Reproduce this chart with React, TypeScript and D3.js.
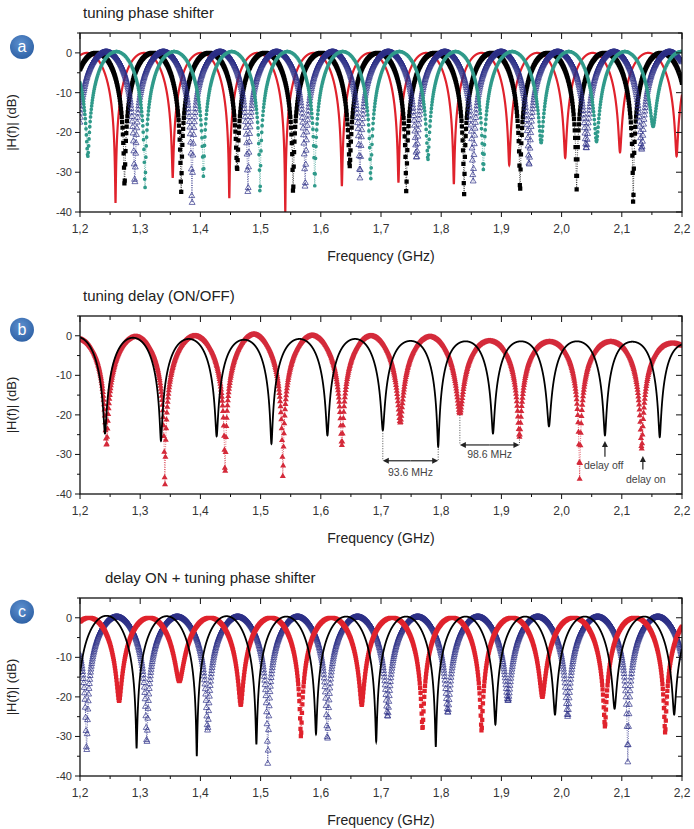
import React from 'react';
import * as d3 from 'd3';

// axes
const freqTicks = [1.2, 1.3, 1.4, 1.5, 1.6, 1.7, 1.8, 1.9, 2.0, 2.1, 2.2];
const dbTicks = [0, -10, -20, -30, -40];

// panel a: tuning phase shifter (notch centre GHz, notch depth dB, dome level dB)
const aRedNotches = [1.259, 1.354, 1.448, 1.541, 1.635, 1.729, 1.821, 1.913, 2.006, 2.097, 2.191];
const aRedDepths = [-37.7, -31.4, -36.5, -40, -33.5, -32.6, -33, -28.2, -26.4, -25, -26];
const aRedPeaks = [0, 0, 0, 0, 0, 0, 0, 0, 0, 0, 0, 0];
const aBlackNotches = [1.274, 1.368, 1.461, 1.554, 1.648, 1.742, 1.838, 1.931, 2.025, 2.119];
const aBlackDepths = [-33.4, -35.2, -29.4, -35.6, -28.5, -35, -35.8, -35, -34.3, -39.5];
const aBlackPeaks = [0, 0, 0, 0, 0, 0, 0, 0, 0, 0, 0];
const aNavyNotches = [1.291, 1.386, 1.479, 1.574, 1.665, 1.759, 1.853, 1.946, 2.041, 2.133];
const aNavyDepths = [-33, -40, -36, -34.3, -31.5, -26.4, -32.4, -28.2, -24, -24.3];
const aNavyPeaks = [0.2, 0.2, 0.2, 0.2, 0.2, 0.2, 0.2, 0.2, 0.2, 0.2, 0.2];
const aTealNotches = [1.213, 1.308, 1.405, 1.499, 1.59, 1.683, 1.778, 1.87, 1.966, 2.058, 2.152];
const aTealDepths = [-26, -34, -31, -35.6, -33.4, -31.7, -26.8, -29.3, -22.6, -22.3, -18.5];
const aTealPeaks = [0.3, 0.3, 0.3, 0.3, 0.3, 0.3, 0.3, 0.3, 0.3, 0.3, 0.3, 0.3];

// panel b: tuning delay ON/OFF
const bOffNotches = [1.2415, 1.3345, 1.427, 1.518, 1.611, 1.703, 1.795, 1.886, 1.979, 2.072, 2.163];
const bOffDepths = [-24.7, -26.6, -25.4, -27.3, -25.2, -23.9, -28, -24.7, -22.9, -25.2, -25.6];
const bOffPeaks = [-0.3, -0.5, -0.8, -1, -0.8, -0.8, -1.3, -1.4, -1.4, -1.4, -1.5, -2];
const bOnNotches = [1.244, 1.341, 1.441, 1.537, 1.635, 1.732, 1.831, 1.93, 2.03, 2.133];
const bOnDepths = [-27.7, -39.5, -35, -35.8, -27.7, -22, -19.7, -25.6, -36.2, -28.6];
const bOnPeaks = [-0.8, -0.3, -0.1, 0.3, 0, -0.1, -0.3, -1.4, -1.6, -1.6, -2];

// panel c: delay ON + tuning phase shifter
const cBlackNotches = [1.294, 1.394, 1.493, 1.592, 1.692, 1.791, 1.89, 1.989, 2.088, 2.187];
const cBlackDepths = [-33, -35, -32, -29.4, -31.3, -32.6, -27, -24.5, -23, -24.5];
const cBlackPeaks = [0.5, 0.4, 0.4, 0.3, 0.3, 0.3, 0.3, 0.3, 0.3, 0.3, 0.3];
const cRedNotches = [1.265, 1.365, 1.467, 1.567, 1.668, 1.769, 1.867, 1.968, 2.072, 2.172];
const cRedDepths = [-21, -16, -22, -30, -22, -28, -28.5, -20, -27.5, -29];
const cRedPeaks = [0, 0, 0, 0, 0, 0, 0, 0, 0, 0, 0];
const cNavyNotches = [1.211, 1.311, 1.412, 1.512, 1.611, 1.711, 1.811, 1.911, 2.01, 2.11];
const cNavyDepths = [-34, -31.7, -28.5, -37.2, -30.8, -25, -24, -21, -25, -36.5];
const cNavyPeaks = [0.2, 0.2, 0.2, 0.2, 0.2, 0.2, 0.2, 0.2, 0.2, 0.2, 0.2];

const RED = '#e0222c';
const NAVY = '#2c2f86';
const TEAL = '#2f9a8a';
const FONT = 'Liberation Sans, Arial, sans-serif';

const x = d3.scaleLinear().domain([1.2, 2.2]).range([80, 682]);
const fmtFreq = d3.formatLocale({ decimal: ',', thousands: '.', grouping: [3], currency: ['', ''] }).format('.1f');

// notch-filter response through the measured notch centres / depths
function response(f: number, notches: number[], depths: number[], peaks: number[]) {
  const k = d3.bisectRight(notches, f);
  const lo = Math.max(0, Math.min(notches.length - 2, k - 1));
  const gap = notches[lo + 1] - notches[lo];
  const i = d3.leastIndex(notches, (n) => Math.abs(n - f)) as number;
  const eps = Math.pow(10, depths[i] / 20);
  const s = Math.sin((Math.PI * (f - notches[i])) / gap);
  return 10 * Math.log10(s * s * (1 - eps * eps) + eps * eps) + peaks[k] * s * s;
}

const markerFreqs = d3.range(0, 1601).map((j) => 1.2 + j * 0.000625);
const lineFreqs = d3.range(0, 10001).map((j) => 1.2 + j * 0.0001);

function markerPath(pts: [number, number][], type: d3.SymbolType, size: number) {
  const p = d3.path();
  for (const [px, py] of pts) {
    const ctx: any = {
      moveTo: (a: number, b: number) => p.moveTo(a + px, b + py),
      lineTo: (a: number, b: number) => p.lineTo(a + px, b + py),
      closePath: () => p.closePath(),
      arc: (a: number, b: number, r: number, s0: number, s1: number, ccw?: boolean) => p.arc(a + px, b + py, r, s0, s1, ccw),
      rect: (a: number, b: number, w: number, h: number) => p.rect(a + px, b + py, w, h),
    };
    type.draw(ctx, size);
  }
  return p.toString();
}

type Series = {
  notches: number[];
  depths: number[];
  peaks: number[];
  color: string;
  kind: 'line' | 'square' | 'triangle' | 'opentriangle' | 'circle';
};

function SeriesMarks({ s, y, clip }: { s: Series; y: d3.ScaleLinear<number, number>; clip: string }) {
  if (s.kind === 'line') {
    const pts = lineFreqs.map((f) => [x(f), y(response(f, s.notches, s.depths, s.peaks))] as [number, number]);
    return <path d={d3.line()(pts) || ''} fill="none" stroke={s.color} strokeWidth={s.color === RED ? 2.2 : 1.8} clipPath={clip} />;
  }
  const pts = markerFreqs.map((f) => [x(f), y(response(f, s.notches, s.depths, s.peaks))] as [number, number]);
  const sym = s.kind === 'square' ? d3.symbolSquare : s.kind === 'circle' ? d3.symbolCircle : d3.symbolTriangle;
  const size = s.kind === 'square' ? 18 : s.kind === 'circle' ? 11 : s.kind === 'triangle' ? 16 : 15;
  const open = s.kind === 'opentriangle';
  return (
    <g clipPath={clip}>
      <path d={d3.line()(pts) || ''} fill="none" stroke={s.color} strokeWidth={0.7} strokeDasharray="1 1.3" />
      <path
        d={markerPath(pts, sym, size)}
        fill={open ? 'none' : s.color}
        stroke={open ? s.color : 'none'}
        strokeWidth={open ? 0.7 : 0}
      />
    </g>
  );
}

function Panel({ top, bottom, id, badge, title, titleX, series, children }: any) {
  const y = d3.scaleLinear().domain([-40, 5]).range([bottom, top]);
  const x0 = x.range()[0];
  const x1 = x.range()[1];
  const minorX = d3.range(0, 21).map((j) => 1.2 + j * 0.05);
  const minorY = d3.range(-40, 5.1, 5);
  return (
    <g fontFamily={FONT}>
      <defs>
        <clipPath id={`clip-${id}`}>
          <rect x={x0} y={top} width={x1 - x0} height={bottom - top} />
        </clipPath>
      </defs>
      <text x={titleX} y={top - 15} fontSize={15} fill="#222">{title}</text>
      <circle cx={22} cy={y(1.5)} r={12} fill="url(#badgeGrad)" />
      <text x={22} y={y(1.5) + 5.5} fontSize={16} fill="#fff" textAnchor="middle">{badge}</text>
      {series.map((s: Series, k: number) => (
        <SeriesMarks key={k} s={s} y={y} clip={`url(#clip-${id})`} />
      ))}
      {children && children(y)}
      <rect x={x0} y={top} width={x1 - x0} height={bottom - top} fill="none" stroke="#111" strokeWidth={1.3} />
      {minorX.map((f, j) => {
        const major = j % 2 === 0;
        return (
          <g key={`tx${j}`} stroke="#111" strokeWidth={1}>
            <line x1={x(f)} x2={x(f)} y1={top} y2={top + (major ? 6 : 4)} />
            <line x1={x(f)} x2={x(f)} y1={bottom} y2={bottom + (major ? 5 : 3)} />
          </g>
        );
      })}
      {minorY.map((v, j) => {
        const major = v % 10 === 0;
        return (
          <g key={`ty${j}`} stroke="#111" strokeWidth={1}>
            <line x1={x0} x2={x0 - (major ? 5 : 3)} y1={y(v)} y2={y(v)} />
            <line x1={x1} x2={x1 - (major ? 6 : 4)} y1={y(v)} y2={y(v)} />
          </g>
        );
      })}
      {dbTicks.map((v) => (
        <text key={`yl${v}`} x={x0 - 8} y={y(v) + 4} fontSize={11} fill="#333" textAnchor="end">{String(v)}</text>
      ))}
      {freqTicks.map((f) => (
        <text key={`xl${f}`} x={x(f)} y={bottom + 21} fontSize={12} fill="#333" textAnchor="middle">{fmtFreq(f)}</text>
      ))}
      <text x={(x0 + x1) / 2} y={bottom + 49} fontSize={14} fill="#222" textAnchor="middle">Frequency (GHz)</text>
      <text transform={`translate(16,${(top + bottom) / 2}) rotate(-90)`} fontSize={13} fill="#222" textAnchor="middle">|H(f)| (dB)</text>
    </g>
  );
}

function Arrow({ x1, y1, x2, y2 }: { x1: number; y1: number; x2: number; y2: number }) {
  const a = Math.atan2(y2 - y1, x2 - x1);
  const L = 6;
  const W = 3;
  const p = d3.path();
  p.moveTo(x2, y2);
  p.lineTo(x2 - L * Math.cos(a) + W * Math.sin(a), y2 - L * Math.sin(a) - W * Math.cos(a));
  p.lineTo(x2 - L * Math.cos(a) - W * Math.sin(a), y2 - L * Math.sin(a) + W * Math.cos(a));
  p.closePath();
  return (
    <g>
      <line x1={x1} y1={y1} x2={x2 - 4 * Math.cos(a)} y2={y2 - 4 * Math.sin(a)} stroke="#222" strokeWidth={1.2} />
      <path d={p.toString()} fill="#222" />
    </g>
  );
}

function annotationsB(y: d3.ScaleLinear<number, number>) {
  const dot = { stroke: '#222', strokeWidth: 0.8, strokeDasharray: '1 1.5' };
  const b1 = -31.6;
  const b2 = -27.6;
  return (
    <g fontFamily={FONT}>
      <line x1={x(1.703)} x2={x(1.703)} y1={y(-24)} y2={y(b1)} {...dot} />
      <line x1={x(1.795)} x2={x(1.795)} y1={y(-28)} y2={y(b1)} {...dot} />
      <Arrow x1={(x(1.703) + x(1.795)) / 2} y1={y(b1)} x2={x(1.703)} y2={y(b1)} />
      <Arrow x1={(x(1.703) + x(1.795)) / 2} y1={y(b1)} x2={x(1.795)} y2={y(b1)} />
      <text x={(x(1.703) + x(1.795)) / 2} y={y(-35.5)} fontSize={10.5} fill="#444" textAnchor="middle">93.6 MHz</text>
      <line x1={x(1.831)} x2={x(1.831)} y1={y(-20)} y2={y(b2)} {...dot} />
      <line x1={x(1.93)} x2={x(1.93)} y1={y(-25.6)} y2={y(b2)} {...dot} />
      <Arrow x1={(x(1.831) + x(1.93)) / 2} y1={y(b2)} x2={x(1.831)} y2={y(b2)} />
      <Arrow x1={(x(1.831) + x(1.93)) / 2} y1={y(b2)} x2={x(1.93)} y2={y(b2)} />
      <text x={(x(1.831) + x(1.93)) / 2} y={y(-31)} fontSize={10.5} fill="#444" textAnchor="middle">98.6 MHz</text>
      <Arrow x1={x(2.072)} y1={y(-30.6)} x2={x(2.072)} y2={y(-26.6)} />
      <text x={x(2.07)} y={y(-33.6)} fontSize={10.5} fill="#444" textAnchor="middle">delay off</text>
      <Arrow x1={x(2.135)} y1={y(-33.8)} x2={x(2.135)} y2={y(-30.4)} />
      <text x={x(2.14)} y={y(-37.3)} fontSize={10.5} fill="#444" textAnchor="middle">delay on</text>
    </g>
  );
}

export default function App() {
  const seriesA: Series[] = [
    { notches: aRedNotches, depths: aRedDepths, peaks: aRedPeaks, color: RED, kind: 'line' },
    { notches: aBlackNotches, depths: aBlackDepths, peaks: aBlackPeaks, color: '#000', kind: 'square' },
    { notches: aNavyNotches, depths: aNavyDepths, peaks: aNavyPeaks, color: NAVY, kind: 'opentriangle' },
    { notches: aTealNotches, depths: aTealDepths, peaks: aTealPeaks, color: TEAL, kind: 'circle' },
  ];
  const seriesB: Series[] = [
    { notches: bOnNotches, depths: bOnDepths, peaks: bOnPeaks, color: '#d42a3a', kind: 'triangle' },
    { notches: bOffNotches, depths: bOffDepths, peaks: bOffPeaks, color: '#000', kind: 'line' },
  ];
  const seriesC: Series[] = [
    { notches: cNavyNotches, depths: cNavyDepths, peaks: cNavyPeaks, color: NAVY, kind: 'opentriangle' },
    { notches: cRedNotches, depths: cRedDepths, peaks: cRedPeaks, color: RED, kind: 'square' },
    { notches: cBlackNotches, depths: cBlackDepths, peaks: cBlackPeaks, color: '#000', kind: 'line' },
  ];
  return (
    <svg width={694} height={829} style={{ position: 'absolute', left: 0, top: 0, background: '#fff' }}>
      <defs>
        <radialGradient id="badgeGrad" cx="45%" cy="35%" r="65%">
          <stop offset="0%" stopColor="#5d90cf" />
          <stop offset="100%" stopColor="#2f62a6" />
        </radialGradient>
      </defs>
      <Panel top={33} bottom={212} id="a" badge="a" title="tuning phase shifter" titleX={83} series={seriesA} />
      <Panel top={316} bottom={494} id="b" badge="b" title="tuning delay (ON/OFF)" titleX={83} series={seriesB}>
        {annotationsB}
      </Panel>
      <Panel top={598} bottom={776} id="c" badge="c" title="delay ON + tuning phase shifter" titleX={105} series={seriesC} />
    </svg>
  );
}
